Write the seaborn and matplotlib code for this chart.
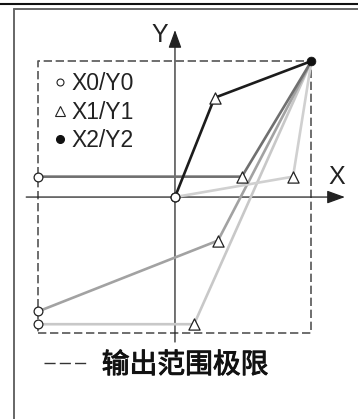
import matplotlib
matplotlib.use("Agg")
import matplotlib.pyplot as plt
from matplotlib.lines import Line2D
import matplotlib.patheffects as pe
import seaborn as sns
import pandas as pd

sns.set_style("white")
plt.rcParams['font.family'] = ['Liberation Sans', 'Noto Sans CJK SC', 'DejaVu Sans']

# ---- data (dashed output-limit box spans -1..1 on both axes) ----
series_names = ["s5", "s4", "s3", "s2", "s1"]
s1_x = [0.0, 0.29, 1.0];   s1_y = [0.0, 0.73, 1.0]
s2_x = [-1.0, 0.49, 1.0];  s2_y = [0.15, 0.15, 1.0]
s3_x = [0.0, 0.865, 1.0];  s3_y = [0.0, 0.15, 1.0]
s4_x = [-1.0, 0.315, 1.0]; s4_y = [-0.84, -0.32, 1.0]
s5_x = [-1.0, 0.14, 1.0];  s5_y = [-0.935, -0.935, 1.0]
series_colors = {"s1": "#1c1c1c", "s2": "#707070", "s3": "#d0d0d0",
                 "s4": "#a2a2a2", "s5": "#c8c8c8"}
legend_labels = ["X0/Y0", "X1/Y1", "X2/Y2"]
range_label = "输出范围极限"
limit_lo, limit_hi = -1.0, 1.0

xs = {"s1": s1_x, "s2": s2_x, "s3": s3_x, "s4": s4_x, "s5": s5_x}
ys = {"s1": s1_y, "s2": s2_y, "s3": s3_y, "s4": s4_y, "s5": s5_y}

rows = []
for s in series_names:
    for i, (x, y) in enumerate(zip(xs[s], ys[s])):
        rows.append({"series": s, "x": x, "y": y, "pt": i})
df = pd.DataFrame(rows)

fig = plt.figure(figsize=(3.58, 4.19), dpi=100)
ax = fig.add_axes([0, 0, 1, 1])
ax.set_xlim(-1.282, 1.341)
ax.set_ylim(-1.632, 1.449)
ax.axis("off")

# dashed output-limit box
box_col = "#555555"
ax.plot([limit_lo, limit_hi, limit_hi, limit_lo, limit_lo],
        [limit_lo, limit_lo, limit_hi, limit_hi, limit_lo],
        ls=(0, (5, 2.2)), color=box_col, lw=1.2, zorder=1)

# coordinate axes with arrows
arrow_kw = dict(arrowstyle="-|>,head_length=0.55,head_width=0.2",
                color="#222222", lw=0.9, mutation_scale=20, shrinkA=0, shrinkB=0)
ax.annotate("", xy=(1.245, 0), xytext=(-1.09, 0), arrowprops=arrow_kw, zorder=2)
ax.annotate("", xy=(0, 1.228), xytext=(0, -1.066), arrowprops=arrow_kw, zorder=2)
ax.text(-0.11, 1.19, "Y", ha="center", va="center", fontsize=18, color="#222222")
ax.text(1.185, 0.15, "X", ha="center", va="center", fontsize=18, color="#222222")

# lines
for i, s in enumerate(series_names):
    sub = df[df.series == s]
    sns.lineplot(data=sub, x="x", y="y", sort=False, estimator=None,
                 color=series_colors[s], lw=1.9, ax=ax, zorder=3 + i)

# markers
pts0 = df[(df.pt == 0)]
pts1 = df[(df.pt == 1)]
pts2 = df[(df.pt == 2)].iloc[:1]
sns.scatterplot(data=pts0, x="x", y="y", marker="o", s=40, facecolor="white",
                edgecolor="#222222", linewidth=0.9, ax=ax, zorder=10)
sns.scatterplot(data=pts1, x="x", y="y", marker="^", s=65, facecolor="white",
                edgecolor="#222222", linewidth=0.9, ax=ax, zorder=10)
sns.scatterplot(data=pts2, x="x", y="y", marker="o", s=40, color="#111111",
                edgecolor="#111111", ax=ax, zorder=10)

# legend
handles = [
    Line2D([], [], ls="none", marker="o", ms=5, mfc="white", mec="#222222", mew=0.8),
    Line2D([], [], ls="none", marker="^", ms=6.5, mfc="white", mec="#222222", mew=0.8),
    Line2D([], [], ls="none", marker="o", ms=5.5, mfc="#111111", mec="#111111"),
]
leg = ax.legend(handles, legend_labels, loc="upper left",
                bbox_to_anchor=(53 / 358, 1 - 72 / 419), bbox_transform=fig.transFigure,
                frameon=False, fontsize=16.5, handlelength=0.6, handletextpad=0.2,
                labelspacing=0.25, borderpad=0, borderaxespad=0)
for t in leg.get_texts():
    t.set_color("#222222")
ax.add_artist(leg)

leg2 = ax.legend([Line2D([], [], ls=(0, (8, 3)), color="#333333", lw=1.0)], [range_label],
                 loc="upper left", bbox_to_anchor=(44 / 358, 1 - 350 / 419),
                 bbox_transform=fig.transFigure, frameon=False,
                 handlelength=1.5, handletextpad=0.58, borderpad=0, borderaxespad=0,
                 prop=dict(family=["Noto Sans CJK SC"], size=20))
for t in leg2.get_texts():
    t.set_color("#111111")
    t.set_path_effects([pe.withStroke(linewidth=0.7, foreground="#111111")])

# outer frame
fig.add_artist(Line2D([0, 1], [1 - 4.5 / 419] * 2, color="#111111", lw=1.5,
                      transform=fig.transFigure))
fig.add_artist(Line2D([14 / 358, 1], [1 - 9.5 / 419] * 2, color="#666666", lw=1.4,
                      transform=fig.transFigure))
fig.add_artist(Line2D([14 / 358] * 2, [0, 1 - 9.5 / 419], color="#666666", lw=1.4,
                      transform=fig.transFigure))

fig.savefig("out.png", dpi=100)
